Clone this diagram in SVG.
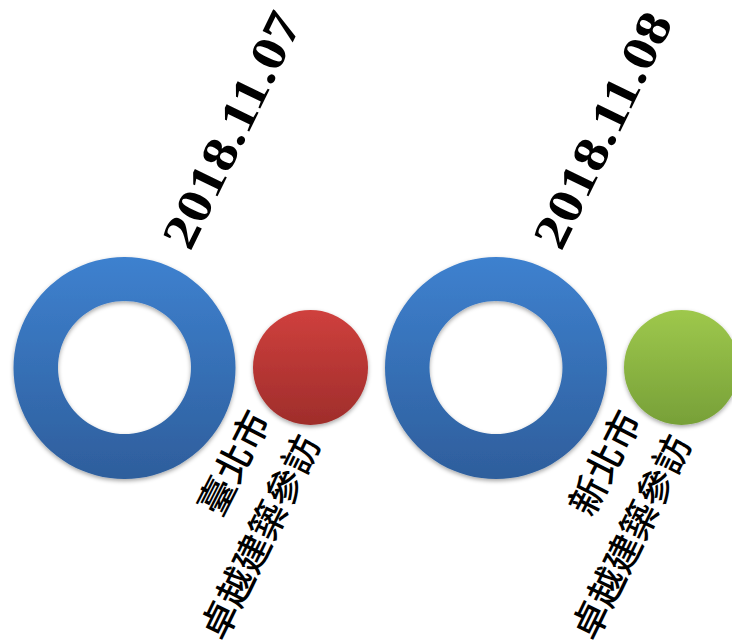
<svg xmlns="http://www.w3.org/2000/svg" width="732" height="641" viewBox="0 0 732 641">
<defs>
<linearGradient id="gBlue" x1="0" y1="0" x2="0" y2="1"><stop offset="0" stop-color="#3e81cf"/><stop offset="1" stop-color="#2e5e9c"/></linearGradient>
<linearGradient id="gRed" x1="0" y1="0" x2="0" y2="1"><stop offset="0" stop-color="#cf403d"/><stop offset="1" stop-color="#9f2d2b"/></linearGradient>
<linearGradient id="gGreen" x1="0" y1="0" x2="0" y2="1"><stop offset="0" stop-color="#9ec84c"/><stop offset="1" stop-color="#77a038"/></linearGradient>
<filter id="sh" x="-20%" y="-20%" width="140%" height="140%"><feDropShadow dx="0" dy="2" stdDeviation="2" flood-color="#000" flood-opacity="0.35"/></filter>
<style>
.date{font-family:"Liberation Serif","DejaVu Serif",serif;font-weight:bold;font-size:49px;fill:#000}
.cjk{font-family:"Liberation Sans","Noto Sans CJK TC",sans-serif;font-size:37px;font-weight:500;fill:#000}
</style>
</defs>
<g id="ring1" filter="url(#sh)"><path d="M124.5,257 a111,111 0 1,0 0.01,0 Z M124.5,301 a66.5,66.5 0 1,1 -0.01,0 Z" fill="url(#gBlue)" fill-rule="evenodd"/></g>
<g id="dot1" filter="url(#sh)"><circle cx="310.5" cy="367.5" r="57.5" fill="url(#gRed)"/></g>
<g id="ring2" filter="url(#sh)"><path d="M496,257 a111,111 0 1,0 0.01,0 Z M496,301 a66.5,66.5 0 1,1 -0.01,0 Z" fill="url(#gBlue)" fill-rule="evenodd"/></g>
<g id="dot2" filter="url(#sh)"><circle cx="681.5" cy="367.5" r="57.5" fill="url(#gGreen)"/></g>
<g id="date1"><text class="date" transform="translate(246,138) rotate(-64)" x="-127" y="0" textLength="256" lengthAdjust="spacingAndGlyphs">2018.11.07</text></g>
<g id="date2"><text class="date" transform="translate(617,138) rotate(-64)" x="-127" y="0" textLength="256" lengthAdjust="spacingAndGlyphs">2018.11.08</text></g>
<g id="label1"><text class="cjk" transform="translate(246,469) rotate(-63)" text-anchor="middle">臺北市</text><text class="cjk" transform="translate(272.5,543) rotate(-64)" text-anchor="middle">卓越建築參訪</text></g>
<g id="label2"><text class="cjk" transform="translate(617,469) rotate(-63)" text-anchor="middle">新北市</text><text class="cjk" transform="translate(643.5,543) rotate(-64)" text-anchor="middle">卓越建築參訪</text></g>
<g id="connectors"/>
</svg>
